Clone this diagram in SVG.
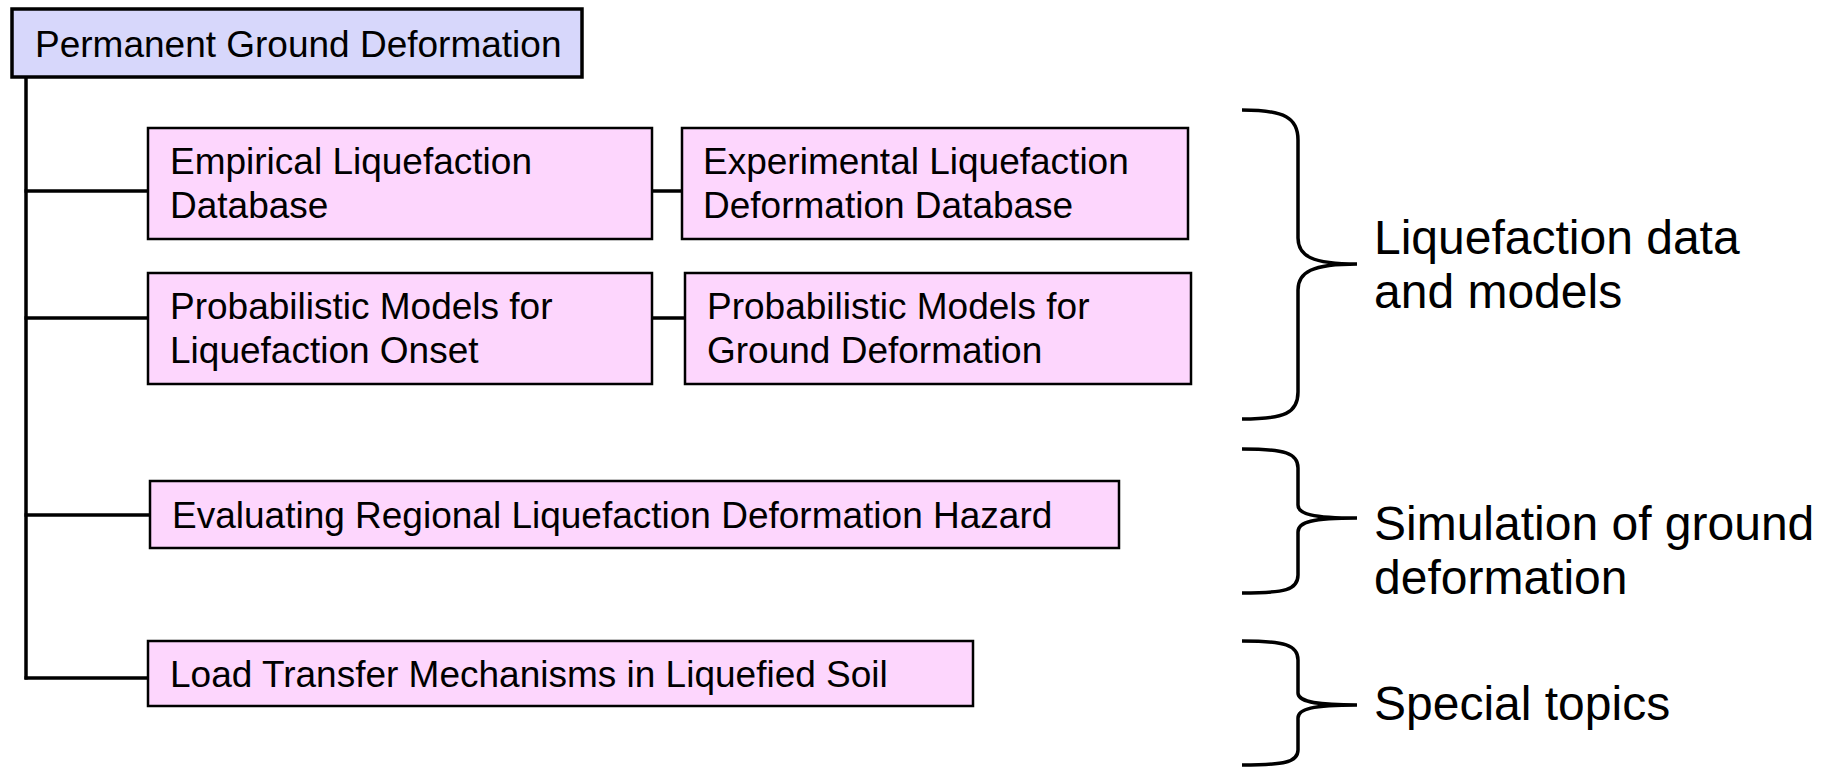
<svg xmlns="http://www.w3.org/2000/svg" width="1834" height="767" viewBox="0 0 1834 767">
  <style>
    .root rect { fill: #d7d7fb; stroke: #000; stroke-width: 3.5; }
    .node rect { fill: #fdd6fd; stroke: #000; stroke-width: 2.5; }
    text { font-family: "Liberation Sans", Arial, sans-serif; fill: #000; }
    .lbl { font-size: 37px; }
    .side { font-size: 48px; }
    .conn line { stroke: #000; stroke-width: 3.5; fill: none; }
    .brace { stroke: #000; stroke-width: 3.5; fill: none; }
  </style>

  <!-- tree connectors -->
  <g id="connectors" class="conn">
    <line x1="26" y1="77" x2="26" y2="679.5"/>
    <line x1="24.5" y1="191" x2="148" y2="191"/>
    <line x1="24.5" y1="318" x2="148" y2="318"/>
    <line x1="24.5" y1="515" x2="150" y2="515"/>
    <line x1="24.5" y1="678" x2="148" y2="678"/>
    <line x1="652" y1="191" x2="682" y2="191"/>
    <line x1="652" y1="318" x2="685" y2="318"/>
  </g>

  <g id="root" class="root">
    <rect x="12" y="9" width="570" height="68"/>
    <text class="lbl" x="35" y="57">Permanent Ground Deformation</text>
  </g>

  <g id="empirical" class="node">
    <rect x="148" y="128" width="504" height="111"/>
    <text class="lbl" x="170" y="174">Empirical Liquefaction</text>
    <text class="lbl" x="170" y="218">Database</text>
  </g>

  <g id="experimental" class="node">
    <rect x="682" y="128" width="506" height="111"/>
    <text class="lbl" x="703" y="174">Experimental Liquefaction</text>
    <text class="lbl" x="703" y="218">Deformation Database</text>
  </g>

  <g id="prob-onset" class="node">
    <rect x="148" y="273" width="504" height="111"/>
    <text class="lbl" x="170" y="319">Probabilistic Models for</text>
    <text class="lbl" x="170" y="363">Liquefaction Onset</text>
  </g>

  <g id="prob-deformation" class="node">
    <rect x="685" y="273" width="506" height="111"/>
    <text class="lbl" x="707" y="319">Probabilistic Models for</text>
    <text class="lbl" x="707" y="363">Ground Deformation</text>
  </g>

  <g id="regional-hazard" class="node">
    <rect x="150" y="481" width="969" height="67"/>
    <text class="lbl" x="172" y="528">Evaluating Regional Liquefaction Deformation Hazard</text>
  </g>

  <g id="load-transfer" class="node">
    <rect x="148" y="641" width="825" height="65"/>
    <text class="lbl" x="170" y="687">Load Transfer Mechanisms in Liquefied Soil</text>
  </g>

  <!-- grouping braces with their captions -->
  <g id="group-data-models">
    <path class="brace" d="M1242,110 C1285,110 1298,118 1298,140 L1298,238 C1298,256 1312,264 1357,264 C1312,264 1298,272 1298,290 L1298,392 C1298,413 1285,419 1242,419"/>
    <text class="side" x="1374" y="254">Liquefaction data</text>
    <text class="side" x="1374" y="308">and models</text>
  </g>

  <g id="group-simulation">
    <path class="brace" d="M1242,449 C1285,449 1298,453 1298,468 L1298,505 C1298,514 1312,518 1357,518 C1312,518 1298,522 1298,532 L1298,575 C1298,590 1285,593 1242,593"/>
    <text class="side" x="1374" y="540">Simulation of ground</text>
    <text class="side" x="1374" y="594">deformation</text>
  </g>

  <g id="group-special">
    <path class="brace" d="M1242,641 C1285,641 1298,645 1298,660 L1298,693 C1298,701 1312,705 1357,705 C1312,705 1298,709 1298,718 L1298,750 C1298,762 1285,765 1242,765"/>
    <text class="side" x="1374" y="720">Special topics</text>
  </g>
</svg>
